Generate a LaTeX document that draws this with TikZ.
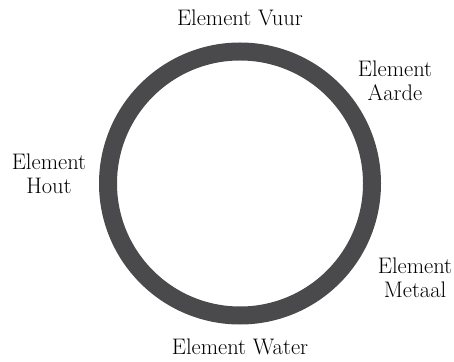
\documentclass[tikz,border=0pt]{standalone}
\begin{document}
\begin{tikzpicture}[x=1pt,y=1pt,
  ringstyle/.style={draw=ringgray,line width=18pt},
  lab/.style={inner sep=0pt,align=center,anchor=base,font=\fontsize{22.5}{24}\selectfont,text=black}]
\definecolor{ringgray}{RGB}{74,74,77}
\useasboundingbox (0,0) rectangle (454,361);
\coordinate (c) at (240,177.5);
\draw[ringstyle] (c) circle[radius=132];
\node[lab] (vuur) at (240,335) {Element Vuur};
\node[lab] (aarde) at (395,260) {Element\\Aarde};
\node[lab] (hout) at (49,167) {Element\\Hout};
\node[lab] (metaal) at (415,64) {Element\\Metaal};
\node[lab] (water) at (240,7) {Element Water};
\end{tikzpicture}
\end{document}
